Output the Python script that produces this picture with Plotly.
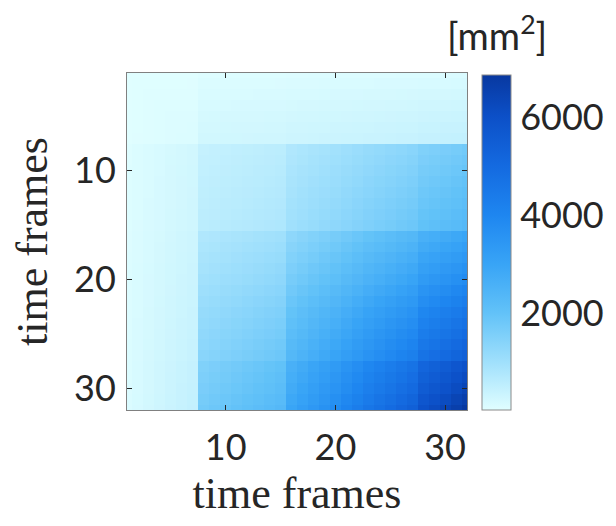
import plotly.graph_objects as go

frames = [1, 2, 3, 4, 5, 6, 7, 8, 9, 10, 11, 12, 13, 14, 15, 16,
          17, 18, 19, 20, 21, 22, 23, 24, 25, 26, 27, 28, 29, 30, 31, 32]

area_mm2 = [
    [20,21,21,22,22,23,23, 57,58,59,60,61,62,63,64, 70,72,74,76,78,80,82,84,86,88,90,92, 98,100,102,105,107],
    [21,33,34,34,35,36,37, 91,93,94,96,98,99,101,102, 112,115,118,122,125,128,131,134,138,141,144,147, 157,160,163,167,171],
    [21,34,46,47,48,50,51, 125,128,130,132,134,136,139,141, 154,158,163,167,172,176,180,185,189,194,198,202, 216,220,224,230,235],
    [22,34,47,60,62,63,64, 160,162,165,168,171,174,176,179, 196,202,207,213,218,224,230,235,241,246,252,258, 274,280,286,293,300],
    [22,35,48,62,75,77,78, 194,197,201,204,207,211,214,218, 238,245,252,258,265,272,279,286,292,299,306,313, 333,340,347,355,364],
    [23,36,50,63,77,88,90, 222,226,230,234,238,242,246,250, 273,281,289,296,304,312,320,328,335,343,351,359, 382,390,398,408,417],
    [23,37,51,64,78,90,101, 251,255,260,264,268,273,277,282, 308,317,326,334,343,352,361,370,378,387,396,405, 431,440,449,460,471],
    [57,91,125,160,194,222,251, 441,462,483,504,525,546,567,588, 756,809,861,914,966,1029,1092,1155,1208,1260,1313,1365, 1512,1565,1617,1680,1739],
    [58,93,128,162,197,226,255, 462,484,506,528,550,572,594,616, 792,847,902,957,1012,1078,1144,1210,1265,1320,1375,1430, 1584,1639,1694,1760,1822],
    [59,94,130,165,201,230,260, 483,506,529,552,575,598,621,644, 828,886,943,1001,1058,1127,1196,1265,1323,1380,1438,1495, 1656,1714,1771,1840,1904],
    [60,96,132,168,204,234,264, 504,528,552,576,600,624,648,672, 864,924,984,1044,1104,1176,1248,1320,1380,1440,1500,1560, 1728,1788,1848,1920,1987],
    [61,98,134,171,207,238,268, 525,550,575,600,625,650,675,700, 900,963,1025,1088,1150,1225,1300,1375,1438,1500,1563,1625, 1800,1863,1925,2000,2070],
    [62,99,136,174,211,242,273, 546,572,598,624,650,676,702,728, 936,1001,1066,1131,1196,1274,1352,1430,1495,1560,1625,1690, 1872,1937,2002,2080,2153],
    [63,101,139,176,214,246,277, 567,594,621,648,675,702,729,756, 972,1040,1107,1175,1242,1323,1404,1485,1553,1620,1688,1755, 1944,2012,2079,2160,2236],
    [64,102,141,179,218,250,282, 588,616,644,672,700,728,756,784, 1008,1078,1148,1218,1288,1372,1456,1540,1610,1680,1750,1820, 2016,2086,2156,2240,2318],
    [70,112,154,196,238,273,308, 756,792,828,864,900,936,972,1008, 1296,1386,1476,1566,1656,1764,1872,1980,2070,2160,2250,2340, 2592,2682,2772,2880,2981],
    [72,115,158,202,245,281,317, 809,847,886,924,963,1001,1040,1078, 1386,1482,1579,1675,1771,1887,2002,2118,2214,2310,2406,2503, 2772,2868,2965,3080,3188],
    [74,118,163,207,252,289,326, 861,902,943,984,1025,1066,1107,1148, 1476,1579,1681,1784,1886,2009,2132,2255,2358,2460,2563,2665, 2952,3055,3157,3280,3395],
    [76,122,167,213,258,296,334, 914,957,1001,1044,1088,1131,1175,1218, 1566,1675,1784,1892,2001,2132,2262,2393,2501,2610,2719,2828, 3132,3241,3350,3480,3602],
    [78,125,172,218,265,304,343, 966,1012,1058,1104,1150,1196,1242,1288, 1656,1771,1886,2001,2116,2254,2392,2530,2645,2760,2875,2990, 3312,3427,3542,3680,3809],
    [80,128,176,224,272,312,352, 1029,1078,1127,1176,1225,1274,1323,1372, 1764,1887,2009,2132,2254,2401,2548,2695,2818,2940,3063,3185, 3528,3651,3773,3920,4057],
    [82,131,180,230,279,320,361, 1092,1144,1196,1248,1300,1352,1404,1456, 1872,2002,2132,2262,2392,2548,2704,2860,2990,3120,3250,3380, 3744,3874,4004,4160,4306],
    [84,134,185,235,286,328,370, 1155,1210,1265,1320,1375,1430,1485,1540, 1980,2118,2255,2393,2530,2695,2860,3025,3163,3300,3438,3575, 3960,4098,4235,4400,4554],
    [86,138,189,241,292,335,378, 1208,1265,1323,1380,1438,1495,1553,1610, 2070,2214,2358,2501,2645,2818,2990,3163,3306,3450,3594,3738, 4140,4284,4428,4600,4761],
    [88,141,194,246,299,343,387, 1260,1320,1380,1440,1500,1560,1620,1680, 2160,2310,2460,2610,2760,2940,3120,3300,3450,3600,3750,3900, 4320,4470,4620,4800,4968],
    [90,144,198,252,306,351,396, 1313,1375,1438,1500,1563,1625,1688,1750, 2250,2406,2563,2719,2875,3063,3250,3438,3594,3750,3906,4063, 4500,4656,4813,5000,5175],
    [92,147,202,258,313,359,405, 1365,1430,1495,1560,1625,1690,1755,1820, 2340,2503,2665,2828,2990,3185,3380,3575,3738,3900,4063,4225, 4680,4843,5005,5200,5382],
    [98,157,216,274,333,382,431, 1512,1584,1656,1728,1800,1872,1944,2016, 2592,2772,2952,3132,3312,3528,3744,3960,4140,4320,4500,4680, 5184,5364,5544,5760,5962],
    [100,160,220,280,340,390,440, 1565,1639,1714,1788,1863,1937,2012,2086, 2682,2868,3055,3241,3427,3651,3874,4098,4284,4470,4656,4843, 5364,5550,5737,5960,6169],
    [102,163,224,286,347,398,449, 1617,1694,1771,1848,1925,2002,2079,2156, 2772,2965,3157,3350,3542,3773,4004,4235,4428,4620,4813,5005, 5544,5737,5929,6160,6376],
    [105,167,230,293,355,408,460, 1680,1760,1840,1920,2000,2080,2160,2240, 2880,3080,3280,3480,3680,3920,4160,4400,4600,4800,5000,5200, 5760,5960,6160,6400,6624],
    [107,171,235,300,364,417,471, 1739,1822,1904,1987,2070,2153,2236,2318, 2981,3188,3395,3602,3809,4057,4306,4554,4761,4968,5175,5382, 5962,6169,6376,6624,6856],
]

axis_ticks = [10, 20, 30]
colorbar_ticks = [2000, 4000, 6000]
axis_title = "time frames"
colorbar_title = "[mm<sup>2</sup>]"

colorscale = [
    [0.0, "#e0feff"],
    [0.1434, "#a0e0fc"],
    [0.2896, "#62c2f8"],
    [0.4359, "#38a4f6"],
    [0.5822, "#1e86f0"],
    [0.7285, "#146ae0"],
    [0.8748, "#0c50c8"],
    [1.0, "#0838a0"],
]

TICK_FONT = dict(family="Lato", size=36, color="#262626")
TITLE_FONT = dict(family="Liberation Serif", size=44, color="#262626")

fig = go.Figure(
    go.Heatmap(
        x=frames,
        y=frames,
        z=area_mm2,
        colorscale=colorscale,
        colorbar=dict(
            x=1.044,
            xanchor="left",
            xpad=0,
            ypad=0,
            y=0.497,
            yanchor="middle",
            len=0.994,
            thickness=29,
            outlinewidth=1,
            outlinecolor="#8a8a8a",
            tickvals=colorbar_ticks,
            ticks="outside",
            ticklen=2,
            tickcolor="rgba(0,0,0,0)",
            tickfont=TICK_FONT,
        ),
    )
)

fig.add_annotation(
    x=1.087, y=1.12, xref="paper", yref="paper",
    text=colorbar_title, showarrow=False,
    font=dict(family="Lato", size=38, color="#262626"),
    xanchor="center", yanchor="middle",
)

fig.update_xaxes(
    range=[1, 32],
    tickvals=axis_ticks,
    ticks="inside",
    ticklen=5,
    tickcolor="#262626",
    showline=True,
    linecolor="#808080",
    linewidth=1,
    mirror="ticks",
    showgrid=False,
    zeroline=False,
    automargin=False,
    ticklabelstandoff=6,
    tickfont=TICK_FONT,
    title=dict(text=axis_title, font=TITLE_FONT, standoff=24),
)
fig.update_yaxes(
    range=[32, 1],
    tickvals=axis_ticks,
    ticks="inside",
    ticklen=5,
    tickcolor="#262626",
    showline=True,
    linecolor="#808080",
    linewidth=1,
    mirror="ticks",
    showgrid=False,
    zeroline=False,
    automargin=False,
    ticklabelstandoff=3,
    tickfont=TICK_FONT,
    title=dict(text=axis_title, font=TITLE_FONT, standoff=14),
)

fig.update_layout(
    width=600,
    height=510,
    margin=dict(l=119, r=141, t=65, b=108, autoexpand=False),
    paper_bgcolor="white",
    plot_bgcolor="white",
    showlegend=False,
)

fig.write_html("out.html")
